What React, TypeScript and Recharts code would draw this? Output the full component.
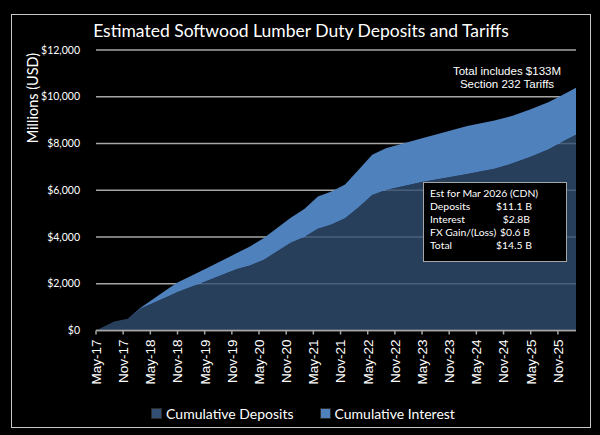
import React from 'react';
import { AreaChart, Area, XAxis, YAxis, CartesianGrid } from 'recharts';

// months counted from May 2017 (0) through Mar 2026 (106)
const monthOffsets = [0, 4, 7, 10, 16, 18, 24, 31, 34, 37, 43, 46, 49, 52, 55, 58, 61, 64, 72, 82, 88, 92, 96, 100, 103, 106];
// cumulative deposits, millions USD
const deposits = [0, 380, 500, 950, 1470, 1650, 2090, 2620, 2780, 3020, 3750, 4000, 4350, 4530, 4800, 5270, 5800, 6010, 6350, 6700, 6920, 7150, 7430, 7750, 8080, 8370];
// cumulative interest on top of deposits, millions USD
const interest = [0, 0, 0, 50, 330, 400, 530, 680, 810, 930, 1070, 1200, 1380, 1420, 1450, 1610, 1720, 1790, 1870, 2050, 2060, 2040, 2030, 2030, 2000, 2020];

const tickLabels = ['May-17', 'Nov-17', 'May-18', 'Nov-18', 'May-19', 'Nov-19', 'May-20', 'Nov-20', 'May-21', 'Nov-21', 'May-22', 'Nov-22', 'May-23', 'Nov-23', 'May-24', 'Nov-24', 'May-25', 'Nov-25'];
const tickMonths = [0, 6, 12, 18, 24, 30, 36, 42, 48, 54, 60, 66, 72, 78, 84, 90, 96, 102];
const yTicks = [0, 2000, 4000, 6000, 8000, 10000, 12000];

const estRows = [
  ['Deposits', '$11.1 B'],
  ['Interest', '$2.8B'],
  ['FX Gain/(Loss)', '$0.6 B'],
  ['Total', '$14.5 B'],
];

const DEP_COLOR = '#324F73';
const INT_COLOR = '#4F81BD';
const SANS = 'Lato, "Open Sans", sans-serif';
const ARIAL = '"Liberation Sans", Arial, sans-serif';

const data = monthOffsets.map((m, i) => ({ m, deposits: deposits[i], interest: interest[i] }));

const XTick = (props: any) => {
  const { x, y, payload } = props;
  const idx = tickMonths.indexOf(payload.value);
  return (
    <g transform={`translate(${x},${y + 3})`}>
      <text transform="rotate(-90)" textAnchor="end" dy="0.36em" fill="#fff" fontSize={13.5} fontFamily={ARIAL}>
        {tickLabels[idx]}
      </text>
    </g>
  );
};

const legendItems = [['Cumulative Deposits', DEP_COLOR], ['Cumulative Interest', INT_COLOR]];

export default function App() {
  return (
    <div style={{ position: 'fixed', left: 0, top: 0, width: 600, height: 435, background: '#000', overflow: 'hidden' }}>
      <div style={{ position: 'absolute', left: 11, top: 14, width: 578, height: 412, border: '1.5px solid #c8c8c8' }} />
      <div style={{ position: 'absolute', left: 0, top: 20, width: 602, textAlign: 'center', color: '#fff', fontFamily: SANS, fontSize: 17.5 }}>
        Estimated Softwood Lumber Duty Deposits and Tariffs
      </div>
      <div style={{ position: 'absolute', left: 32, top: 98, transform: 'translate(-50%,-50%) rotate(-90deg)', whiteSpace: 'nowrap', color: '#fff', fontFamily: SANS, fontSize: 14.5 }}>
        Millions (USD)
      </div>
      <div style={{ position: 'absolute', left: 0, top: 0 }}>
        <AreaChart width={600} height={435} data={data} margin={{ top: 50, right: 24, bottom: 0, left: 0 }}>
          <CartesianGrid vertical={false} stroke="#a6a6a6" strokeWidth={1.5} />
          <XAxis
            dataKey="m"
            type="number"
            domain={[0, 106]}
            ticks={tickMonths}
            interval={0}
            tick={<XTick />}
            tickSize={4}
            height={104.5}
            stroke="#a6a6a6"
            strokeWidth={1.5}
          />
          <YAxis
            width={96}
            domain={[0, 12000]}
            ticks={yTicks}
            axisLine={false}
            tickLine={false}
            tickMargin={10}
            tickFormatter={(v: number) => '$' + v.toLocaleString('en-US')}
            tick={{ fill: '#fff', fontSize: 10.5, fontFamily: SANS }}
          />
          <Area type="linear" dataKey="deposits" stackId="a" stroke="none" fill={DEP_COLOR} fillOpacity={0.8} isAnimationActive={false} />
          <Area type="linear" dataKey="interest" stackId="a" stroke="none" fill={INT_COLOR} fillOpacity={1} isAnimationActive={false} />
        </AreaChart>
      </div>
      <div style={{ position: 'absolute', left: 0, top: 405, width: 606, display: 'flex', justifyContent: 'center', gap: 26, fontFamily: SANS, fontSize: 14, color: '#fff' }}>
        {legendItems.map(([name, c]) => (
          <div key={name} style={{ display: 'flex', alignItems: 'center', whiteSpace: 'nowrap' }}>
            <span style={{ width: 9, height: 9, background: c, border: '1px solid #2a2a2a', marginRight: 4 }} />
            {name}
          </div>
        ))}
      </div>
      <div style={{ position: 'absolute', left: 447, width: 120, top: 65, textAlign: 'center', color: '#fff', fontFamily: ARIAL, fontSize: 11.5, lineHeight: '13px' }}>
        Total includes $133M<br />Section 232 Tariffs
      </div>
      <div style={{ position: 'absolute', left: 423, top: 182, width: 144, height: 80, background: '#000', border: '1px solid #a6a6a6', boxSizing: 'border-box', padding: '4px 0 0 6px', color: '#fff', fontFamily: SANS, fontSize: 10.4, lineHeight: '13px', whiteSpace: 'nowrap' }}>
        <div>Est for Mar 2026 (CDN)</div>
        {estRows.map(([k, v]) => (
          <div key={k} style={{ display: 'flex' }}>
            <span style={{ width: 66 }}>{k}</span>
            <span style={{ width: 34, textAlign: 'right' }}>{v}</span>
          </div>
        ))}
      </div>
    </div>
  );
}
